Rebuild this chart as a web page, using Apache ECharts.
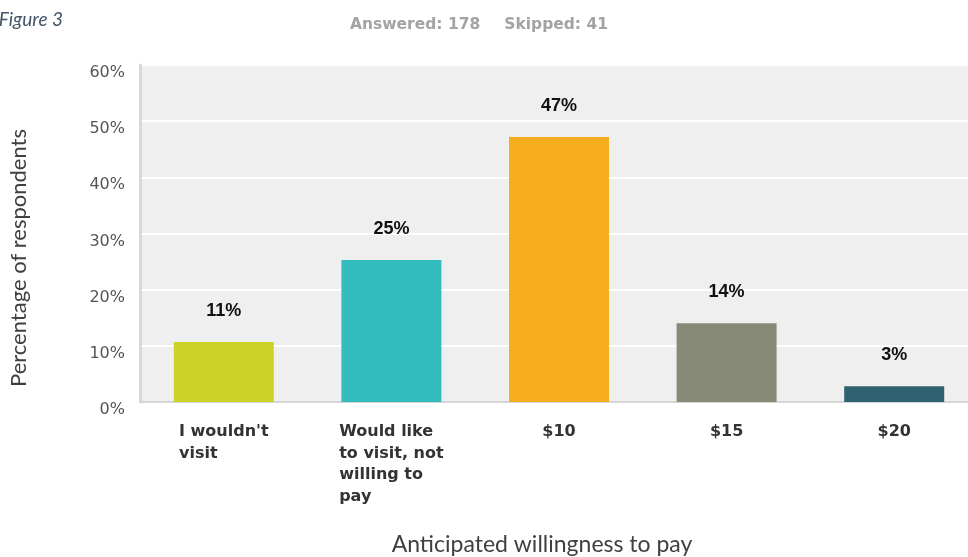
<!DOCTYPE html>
<html>
<head>
<meta charset="utf-8">
<script src="https://cdn.jsdelivr.net/npm/echarts@6/dist/echarts.min.js"></script>
<style>
  html, body { margin: 0; padding: 0; background: #ffffff; overflow: hidden; }
  /* plot area runs slightly past the right edge of the page */
  #chart { width: 980px; height: 557px; }
</style>
</head>
<body>
<div id="chart"></div>
<script>
// Survey answers: willingness to pay for a visit
const categories = [
  "I wouldn't\nvisit",
  "Would like\nto visit, not\nwilling to\npay",
  "$10",
  "$15",
  "$20"
];
const shares = [10.67, 25.28, 47.19, 14.04, 2.81];   // percent of respondents
const barColors = ['#cdd326', '#33bdbf', '#f6ae1f', '#888a78', '#2e6270'];
const yTicks = [0, 10, 20, 30, 40, 50, 60];
const answered = 178;
const skipped = 41;
const figureCaption = 'Figure 3';
const yTitle = 'Percentage of respondents';
const xTitle = 'Anticipated willingness to pay';

const chart = echarts.init(document.getElementById('chart'), null, { renderer: 'canvas' });

const docFont = 'Lato, "Open Sans", sans-serif';

chart.setOption({
  backgroundColor: '#ffffff',
  animation: false,
  title: {
    text: '{a|Answered: ' + answered + '}{gap|}{a|Skipped: ' + skipped + '}',
    left: 345,
    top: 11,
    textStyle: {
      rich: {
        a: { fontFamily: '"DejaVu Sans", Verdana, sans-serif', fontWeight: 'bold', fontSize: 15.5, color: '#a3a3a3' },
        gap: { width: 24 }
      }
    }
  },
  grid: {
    left: 140,
    top: 65,
    width: 838,
    height: 337,
    show: true,
    backgroundColor: '#efefef',
    borderWidth: 0
  },
  xAxis: {
    type: 'category',
    data: categories,
    axisTick: { show: false },
    axisLine: { show: true, lineStyle: { color: '#d6d6d6', width: 2 } },
    axisLabel: {
      interval: 0,
      margin: 19,
      formatter: v => '{c|' + v + '}',
      rich: {
        c: {
          align: 'left',
          fontFamily: '"DejaVu Sans", Verdana, sans-serif',
          fontWeight: 'bold',
          fontSize: 16,
          lineHeight: 21.7,
          color: '#333333'
        }
      }
    }
  },
  yAxis: {
    type: 'value',
    min: yTicks[0],
    max: yTicks[yTicks.length - 1],
    interval: yTicks[1] - yTicks[0],
    axisLine: { show: true, lineStyle: { color: '#d9d9d9', width: 3 } },
    axisTick: { show: false },
    splitLine: { show: true, lineStyle: { color: '#ffffff', width: 2 } },
    axisLabel: {
      margin: 15,
      verticalAlign: 'top',
      formatter: '{value}%',
      fontFamily: '"DejaVu Sans", Verdana, sans-serif',
      fontSize: 16,
      color: '#555555'
    }
  },
  series: [{
    type: 'bar',
    barWidth: 100,
    data: shares.map((v, i) => ({ value: v, itemStyle: { color: barColors[i] } })),
    label: {
      show: true,
      position: 'top',
      distance: 22,
      formatter: p => Math.round(p.value) + '%',
      fontFamily: '"Liberation Sans", Arial, sans-serif',
      fontWeight: 'bold',
      fontSize: 18,
      color: '#111111'
    }
  }],
  graphic: [
    {
      type: 'text',
      x: 63,
      y: 20,
      style: {
        text: figureCaption,
        fontFamily: docFont,
        fontStyle: 'italic',
        fontSize: 19,
        fill: '#44546a',
        align: 'right',
        verticalAlign: 'middle'
      }
    },
    {
      type: 'text',
      x: 19,
      y: 258,
      rotation: Math.PI / 2,
      style: {
        text: yTitle,
        fontFamily: docFont,
        fontSize: 22,
        fill: '#404040',
        align: 'center',
        verticalAlign: 'middle'
      }
    },
    {
      type: 'text',
      x: 542,
      y: 545,
      style: {
        text: xTitle,
        fontFamily: docFont,
        fontSize: 23,
        fill: '#404040',
        align: 'center',
        verticalAlign: 'middle'
      }
    }
  ]
});
</script>
</body>
</html>
